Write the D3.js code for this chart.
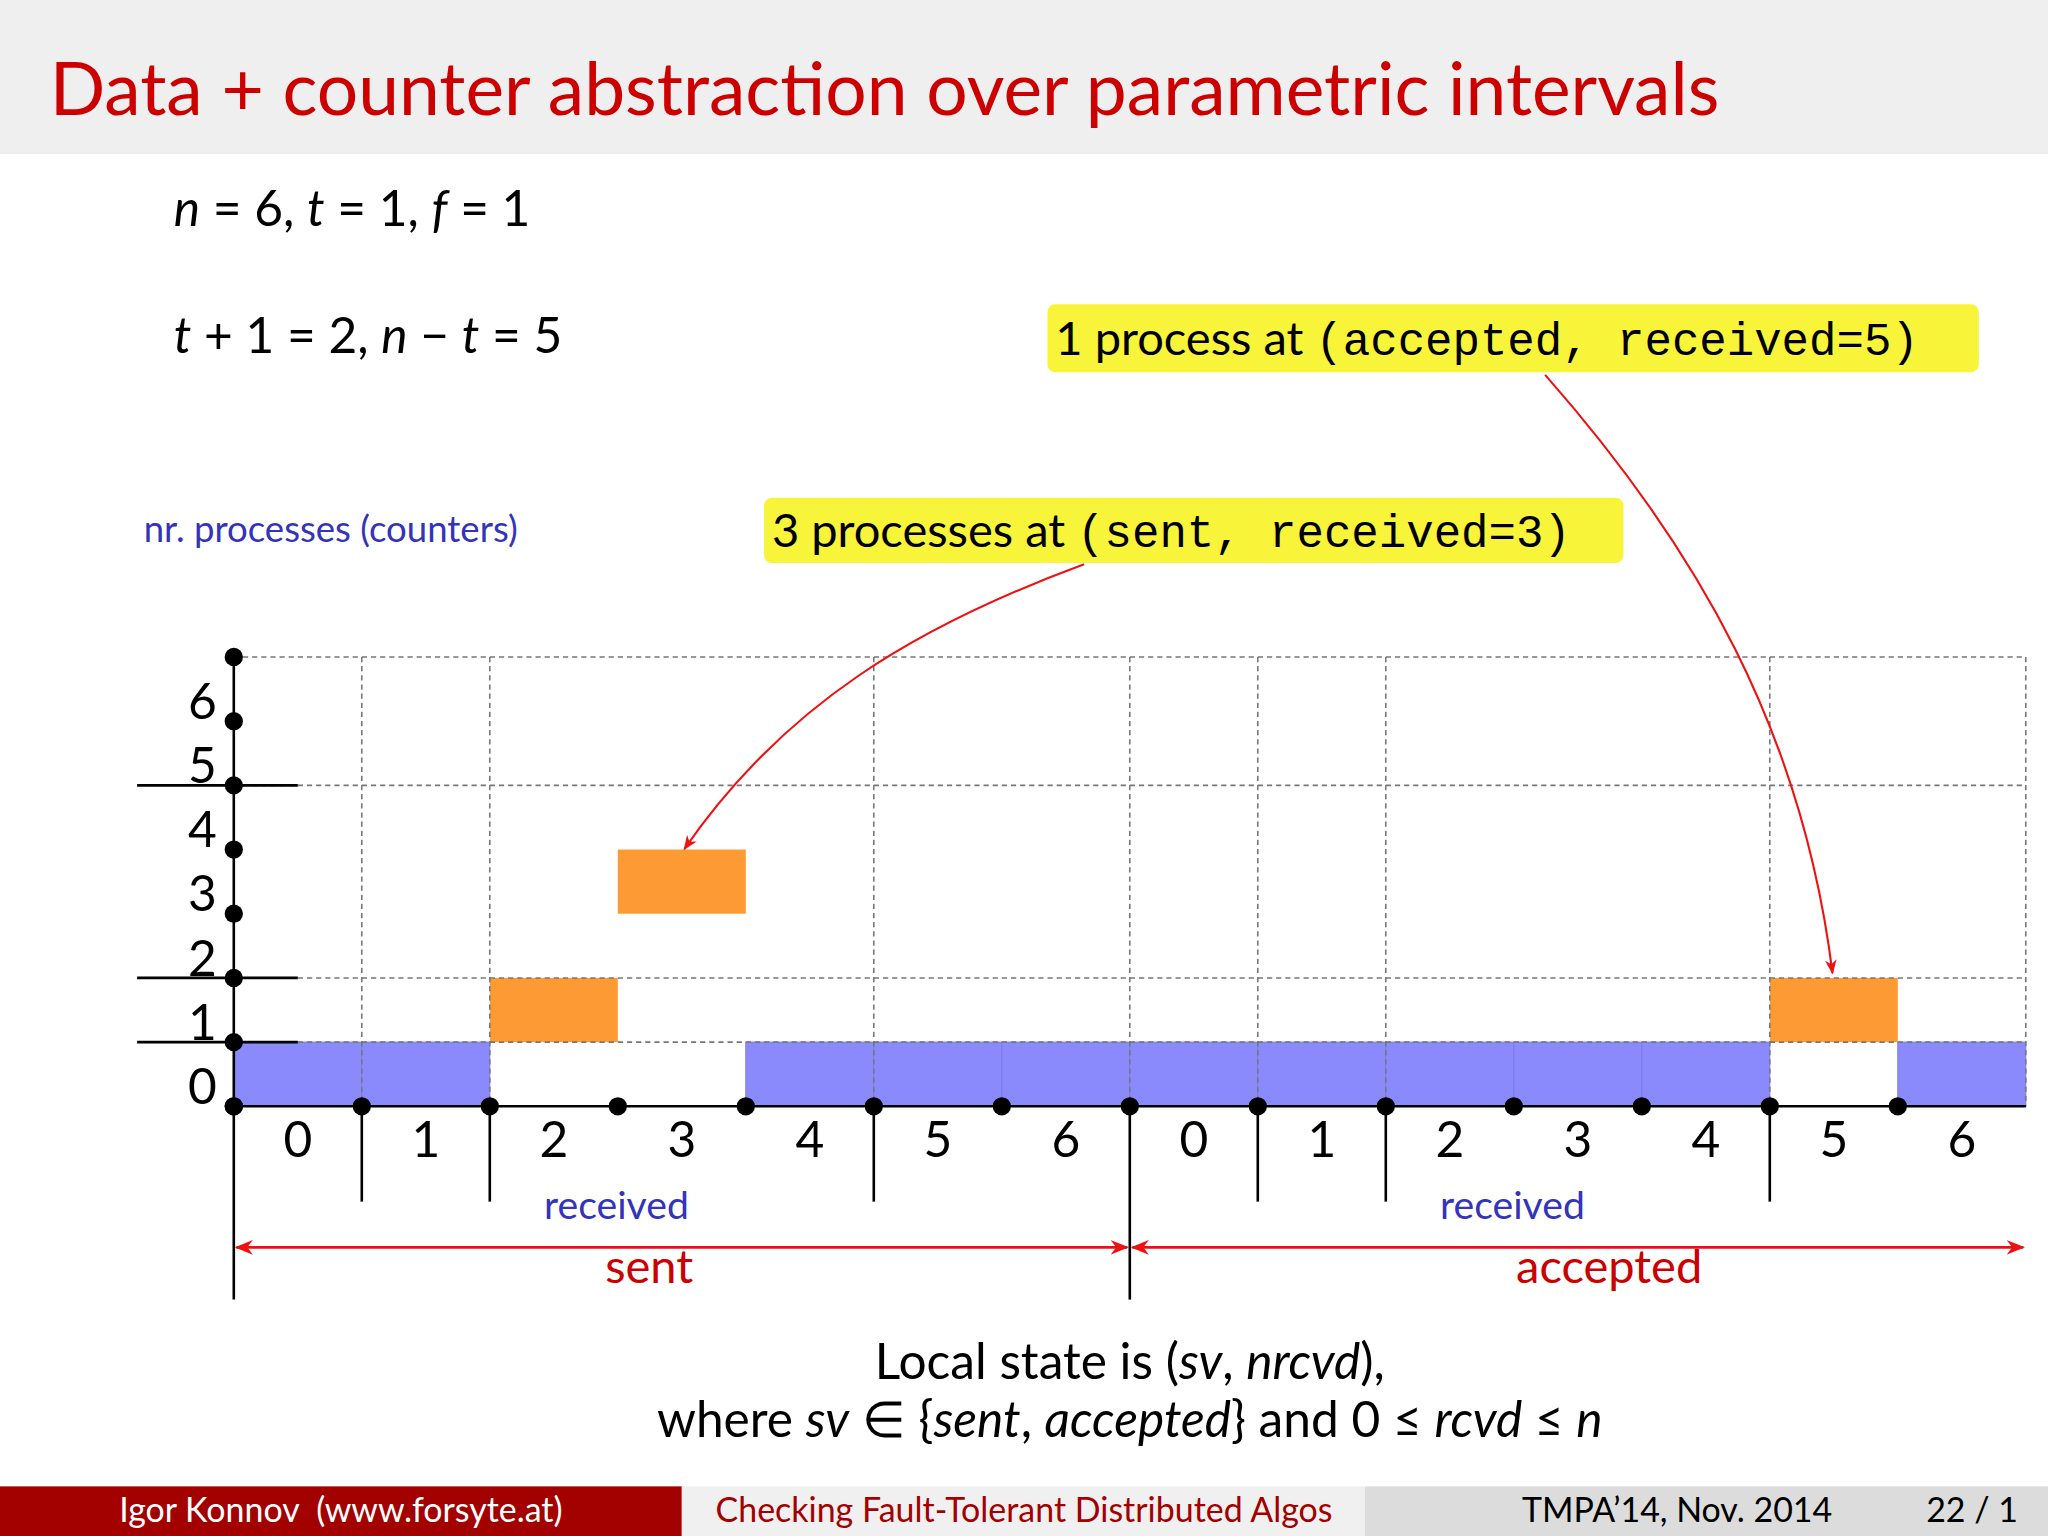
<!DOCTYPE html>
<html><head><meta charset="utf-8">
<script src="https://cdn.jsdelivr.net/npm/d3@7"></script>
<style>body{margin:0;background:#fff}</style></head>
<body><svg id="c" width="2048" height="1536" viewBox="0 0 1568 1176"></svg>
<script>
const cellLabels = ["0","1","2","3","4","5","6","0","1","2","3","4","5","6"];
const blueCells = [0,1,4,5,6,7,8,9,10,11,13];
const orangeCells = [{c:2,y0:1,y1:2},{c:3,y0:3,y1:4},{c:12,y0:1,y1:2}];
const yTicks = [0,1,2,3,4,5,6];
const gridY = [7,5,2,1];
const boundaries = [1,2,5,7,8,9,12,14];
const solidTicksY = [5,2,1];
const groups = [{name:"sent",from:0,to:7,lx:497},{name:"accepted",from:7,to:14,lx:1232}];

const svg = d3.select("#c");
const x = d3.scaleLinear().domain([0,14]).range([179,1551]);
const y = d3.scaleLinear().domain([0,7]).range([847,503]);
const sans = "Lato, 'Open Sans', sans-serif", mono = "'Liberation Mono', 'DejaVu Sans Mono', monospace";
const red = "#cc0000";

// title
svg.append("rect").attr("width",1568).attr("height",118).attr("fill","#efefef");
svg.append("text").attr("x",38).attr("y",88).attr("fill",red).attr("font-family",sans).attr("font-size",56).text("Data + counter abstraction over parametric intervals");

// params
function mathLine(parts, xx, yy, size){
  const t = svg.append("text").attr("x",xx).attr("y",yy).attr("font-family",sans).attr("font-size",size);
  parts.forEach(p=>t.append("tspan").attr("font-style",p[1]?"italic":null).text(p[0]));
  return t;
}
mathLine([["n",1],[" = 6, ",0],["t",1],[" = 1, ",0],["f",1],[" = 1",0]],133,173,38);
mathLine([["t",1],[" + 1 = 2, ",0],["n",1],[" − ",0],["t",1],[" = 5",0]],133,270,38);
svg.append("text").attr("x",110).attr("y",415).attr("fill","#3333bb").attr("font-family",sans).attr("font-size",28).text("nr. processes (counters)");

// bars
svg.selectAll(".b").data(blueCells).join("rect").attr("x",d=>x(d)).attr("width",x(1)-x(0))
  .attr("y",y(1)).attr("height",y(0)-y(1)).attr("fill","#8a8afc").attr("stroke","#7a7af0").attr("stroke-width",0.8);
svg.selectAll(".o").data(orangeCells).join("rect").attr("x",d=>x(d.c)).attr("width",x(1)-x(0))
  .attr("y",d=>y(d.y1)).attr("height",d=>y(d.y0)-y(d.y1)).attr("fill","#fd9a33");

// grid
svg.selectAll(".gy").data(gridY).join("line").attr("x1",x(0)).attr("x2",x(14)).attr("y1",d=>y(d)).attr("y2",d=>y(d))
  .attr("stroke","#777").attr("stroke-dasharray","4,3").attr("stroke-width",1.2);
svg.selectAll(".gx").data(boundaries).join("line").attr("x1",d=>x(d)).attr("x2",d=>x(d)).attr("y1",y(7)).attr("y2",y(0))
  .attr("stroke","#777").attr("stroke-dasharray","4,3").attr("stroke-width",1.2);
// tick lines below
svg.selectAll(".tb").data(boundaries.filter(d=>d!==7&&d!==14)).join("line").attr("x1",d=>x(d)).attr("x2",d=>x(d)).attr("y1",y(0)).attr("y2",920)
  .attr("stroke","#000").attr("stroke-width",2);
[0,7].forEach(d=>svg.append("line").attr("x1",x(d)).attr("x2",x(d)).attr("y1",d===0?y(7):y(0)).attr("y2",995).attr("stroke","#000").attr("stroke-width",2));
svg.append("line").attr("x1",x(0)).attr("x2",x(14)).attr("y1",y(0)).attr("y2",y(0)).attr("stroke","#000").attr("stroke-width",2);
svg.selectAll(".ty").data(solidTicksY).join("line").attr("x1",105).attr("x2",228).attr("y1",d=>y(d)).attr("y2",d=>y(d)).attr("stroke","#000").attr("stroke-width",2);

// dots
svg.selectAll(".dx").data(d3.range(0,14)).join("circle").attr("cx",d=>x(d)).attr("cy",y(0)).attr("r",7).attr("fill","#000");
svg.selectAll(".dy").data(d3.range(0,8)).join("circle").attr("cx",x(0)).attr("cy",d=>y(d)).attr("r",7).attr("fill","#000");

// labels
svg.selectAll(".yl").data(yTicks).join("text").attr("x",155).attr("y",d=>y(d+0.3)+13).attr("text-anchor","middle")
  .attr("font-family",sans).attr("font-size",38).text(d=>d);
svg.selectAll(".xl").data(cellLabels).join("text").attr("x",(d,i)=>x(i+0.5)).attr("y",886).attr("text-anchor","middle")
  .attr("font-family",sans).attr("font-size",38).text(d=>d);
[472,1158].forEach(xx=>svg.append("text").attr("x",xx).attr("y",933).attr("text-anchor","middle").attr("fill","#3333bb").attr("font-family",sans).attr("font-size",30).text("received"));

// red arrows
const defs = svg.append("defs");
defs.append("marker").attr("id","ah").attr("viewBox","0 0 10 10").attr("refX",9).attr("refY",5).attr("markerWidth",7).attr("markerHeight",7).attr("orient","auto-start-reverse")
  .append("path").attr("d","M0,1 L10,5 L0,9 L3,5 Z").attr("fill","#ee1111");
groups.forEach(g=>{
  svg.append("line").attr("x1",x(g.from)+2).attr("x2",x(g.to)-2).attr("y1",955).attr("y2",955).attr("stroke","#ee1111").attr("stroke-width",2)
    .attr("marker-start","url(#ah)").attr("marker-end","url(#ah)");
  svg.append("text").attr("x",g.lx).attr("y",982).attr("text-anchor","middle").attr("fill",red).attr("font-family",sans).attr("font-size",36).text(g.name);
});

// annotation boxes
function box(x0,y0,w,h,lead,code,tx){
  svg.append("rect").attr("x",x0).attr("y",y0).attr("width",w).attr("height",h).attr("rx",6).attr("fill","#f7f43a");
  const t=svg.append("text").attr("x",tx).attr("y",y0+h/2+13).attr("font-size",36);
  t.append("tspan").attr("font-family",sans).text(lead);
  t.append("tspan").attr("font-family",mono).attr("font-size",35).text(code);
}
box(802,233,713,52,"1 process at ","(accepted, received=5)",808);
box(585,381,658,50,"3 processes at ","(sent, received=3)",591);
svg.append("path").attr("d","M1183,287 C1300,420 1380,560 1403,745").attr("fill","none").attr("stroke","#ee1111").attr("stroke-width",1.6).attr("marker-end","url(#ah)");
svg.append("path").attr("d","M830,432 C700,480 600,540 524,650").attr("fill","none").attr("stroke","#ee1111").attr("stroke-width",1.6).attr("marker-end","url(#ah)");

// bottom text
const b1 = mathLine([["Local state is (",0],["sv",1],[", ",0],["nrcvd",1],["),",0]],865,1056,38).attr("text-anchor","middle");
const b2 = mathLine([["where ",0],["sv",1],[" ∈ {",0],["sent",1],[", ",0],["accepted",1],["} and 0 ≤ ",0],["rcvd",1],[" ≤ ",0],["n",1]],865,1100,38).attr("text-anchor","middle");

// footer
const ft=[{x:0,w:522,bg:"#a30000",fg:"#fff",t:"Igor Konnov  (www.forsyte.at)",tx:261,a:"middle"},
 {x:522,w:523,bg:"#f0f0f0",fg:"#a30000",t:"Checking Fault-Tolerant Distributed Algos",tx:784,a:"middle"},
 {x:1045,w:523,bg:"#dcdcdc",fg:"#000",t:"TMPA’14, Nov. 2014",tx:1284,a:"middle"}];
ft.forEach(f=>{svg.append("rect").attr("x",f.x).attr("y",1138).attr("width",f.w).attr("height",38).attr("fill",f.bg);
  svg.append("text").attr("x",f.tx).attr("y",1165).attr("text-anchor",f.a).attr("fill",f.fg).attr("font-family",sans).attr("font-size",26).attr("xml:space","preserve").text(f.t);});
svg.append("text").attr("x",1545).attr("y",1165).attr("text-anchor","end").attr("font-family",sans).attr("font-size",26).text("22 / 1");
</script></body></html>
